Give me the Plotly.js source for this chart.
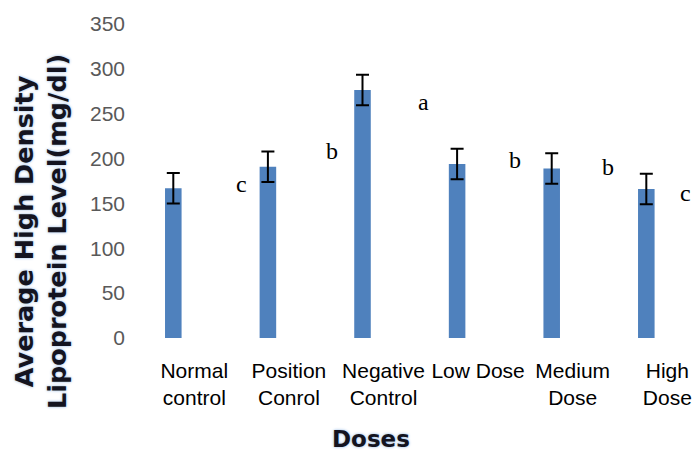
<!DOCTYPE html>
<html>
<head>
<meta charset="utf-8">
<script src="https://cdn.plot.ly/plotly-3.0.1.min.js"></script>
<style>
  html, body { margin: 0; padding: 0; background: #ffffff; }
  #chart { width: 692px; height: 452px; }
</style>
</head>
<body>
<div id="chart"></div>
<script>
// ---- Data ----
const categories = ["Normal control", "Position Conrol", "Negative Control", "Low Dose", "Medium Dose", "High Dose"];
const tickLabels = ["Normal<br>control", "Position<br>Conrol", "Negative<br>Control", "Low Dose", "Medium<br>Dose", "High<br>Dose"];
const hdlValues = [167, 191, 276.5, 194, 189, 166];
const hdlErrors = [17, 17, 17, 17, 17, 17];
const letters = ["c", "b", "a", "b", "b", "c"];
const letterLevels = [172, 208, 263, 198, 191, 162];
const letterOffsets = [0.72, 0.68, 0.65, 0.61, 0.59, 0.41];

const yTitle = "Average High Density<br>Lipoprotein Level(mg/dl)";
const xTitle = "Doses";

const idx = categories.map((_, i) => i);

const trace = {
  type: "bar",
  x: idx,
  y: hdlValues,
  width: 0.175,
  marker: { color: "#4f81bd", line: { width: 0 } },
  error_y: {
    type: "data",
    array: hdlErrors,
    visible: true,
    color: "#000000",
    thickness: 2,
    width: 6.5
  },
  hoverinfo: "none"
};

const annotations = letters.map((t, i) => ({
  x: i + letterOffsets[i],
  y: letterLevels[i],
  xref: "x",
  yref: "y",
  text: t,
  showarrow: false,
  xanchor: "center",
  yanchor: "middle",
  font: { family: "Liberation Serif, Times New Roman, serif", size: 24, color: "#000000" }
}));

const titleShadow = "0px 0px 3px #8db3e2";

annotations.push({
  xref: "paper", yref: "paper",
  x: -0.150, y: 0.338,
  xanchor: "center", yanchor: "middle",
  textangle: -90,
  text: yTitle,
  showarrow: false,
  font: { family: "DejaVu Sans", size: 25.5, weight: 700, color: "#141420", shadow: titleShadow }
});

annotations.push({
  xref: "paper", yref: "paper",
  x: 0.433, y: -0.322,
  xanchor: "center", yanchor: "middle",
  text: xTitle,
  showarrow: false,
  font: { family: "DejaVu Sans", size: 23, weight: 700, color: "#141420", shadow: titleShadow }
});

const layout = {
  width: 692,
  height: 452,
  margin: { l: 126, r: 0, t: 24, b: 114, pad: 0 },
  paper_bgcolor: "#ffffff",
  plot_bgcolor: "#ffffff",
  showlegend: false,
  xaxis: {
    type: "linear",
    range: [-0.5, 5.483],
    tickmode: "array",
    tickvals: idx,
    ticktext: tickLabels,
    ticks: "",
    showgrid: false,
    zeroline: false,
    showline: false,
    ticklabelshift: 21,
    ticklabelstandoff: 18,
    tickfont: { family: "Liberation Sans, Arial, sans-serif", size: 21, color: "#000000" }
  },
  yaxis: {
    range: [0, 350],
    tickmode: "linear",
    tick0: 0,
    dtick: 50,
    ticks: "",
    showgrid: false,
    zeroline: false,
    showline: false,
    tickfont: { family: "Liberation Sans, Arial, sans-serif", size: 21, color: "#595959" }
  },
  annotations: annotations
};

Plotly.newPlot("chart", [trace], layout, { displayModeBar: false, staticPlot: true });
</script>
</body>
</html>
